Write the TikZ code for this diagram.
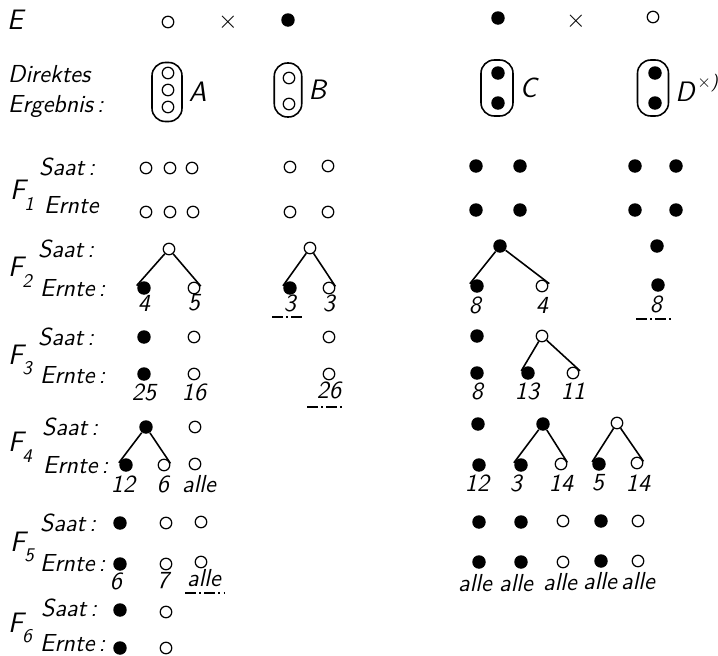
\documentclass[tikz,border=0pt]{standalone}
\usepackage{tikz}
\usetikzlibrary{positioning}

\tikzset{
  weiss/.style={circle,draw,line width=0.7pt,inner sep=0pt,minimum size=0.23cm},
  schwarz/.style={circle,fill,inner sep=0pt,minimum size=0.27cm},
  huelle/.style={draw,rectangle,rounded corners=0.265cm,line width=0.9pt,inner sep=0pt},
  ast/.style={line width=0.9pt,shorten >=-2pt},
  strichpunkt/.style={line width=0.8pt,dash pattern=on 6pt off 2pt on 1pt off 2pt},
  gross/.style={font=\sffamily\slshape\fontsize{16}{18}\selectfont},
}
\newcommand{\Fgen}[1]{F\kern-0.5pt\raisebox{-0.9ex}{\fontsize{11}{12}\selectfont #1}}

\begin{document}
\begin{tikzpicture}[x=0.02cm,y=-0.02cm,
  every node/.append style={font=\sffamily\slshape\fontsize{14}{16}\selectfont}]
  \useasboundingbox (0,0) rectangle (718,656);

  % Eltern
  \node[gross] (E) at (15,20) {E};
  \node[weiss] (e1) at (168,22) {};
  \node (x1) at (228,22) {$\times$};
  \node[schwarz] (e2) at (288,20) {};
  \node[schwarz] (e3) at (498,18) {};
  \node (x2) at (576,21) {$\times$};
  \node[weiss] (e4) at (653,17) {};

  % direktes Ergebnis
  \node[anchor=west] (dir) at (2,74) {Direktes};
  \node[anchor=west] (erg) at (2,106) {Ergebnis\,:};
  \node[huelle,minimum width=0.6cm,minimum height=1.18cm] (hA) at (167,92) {};
  \node[weiss] (a1) at (168,73) {};
  \node[weiss] (a2) at (168,90) {};
  \node[weiss] (a3) at (168,107) {};
  \node[gross,right=0pt of hA] (lA) {A};
  \node[huelle,minimum width=0.55cm,minimum height=1.08cm] (hB) at (288,90) {};
  \node[weiss] (b1) at (289,78) {};
  \node[weiss] (b2) at (289,104) {};
  \node[gross,right=0pt of hB] (lB) {B};
  \node[huelle,minimum width=0.64cm,minimum height=1.12cm] (hC) at (497,88) {};
  \node[schwarz] (c1) at (498,73) {};
  \node[schwarz] (c2) at (498,103) {};
  \node[gross,right=0pt of hC] (lC) {C};
  \node[huelle,minimum width=0.62cm,minimum height=1.12cm] (hD) at (653,88) {};
  \node[schwarz] (d1) at (655,73) {};
  \node[schwarz] (d2) at (655,103) {};
  \node[gross,right=0pt of hD] (lD) {D\raisebox{1.2ex}{\fontsize{10}{11}\selectfont\,$\times$)}};

  % F1
  \node[gross] (F1) at (22,195) {\Fgen{1}};
  \node[anchor=west] (s1) at (33,167) {Saat\,:};
  \node[anchor=west] (r1) at (38,205) {Ernte};
  \node[weiss] (a1s1) at (146,168) {};
  \node[weiss] (a1s2) at (170,168) {};
  \node[weiss] (a1s3) at (192,168) {};
  \node[weiss] (a1e1) at (146,212) {};
  \node[weiss] (a1e2) at (170,212) {};
  \node[weiss] (a1e3) at (193,212) {};
  \node[weiss] (b1s1) at (290,167) {};
  \node[weiss] (b1s2) at (328,166) {};
  \node[weiss] (b1e1) at (290,212) {};
  \node[weiss] (b1e2) at (328,212) {};
  \node[schwarz] (c1s1) at (476,166) {};
  \node[schwarz] (c1s2) at (520,166) {};
  \node[schwarz] (c1e1) at (476,210) {};
  \node[schwarz] (c1e2) at (520,210) {};
  \node[schwarz] (d1s1) at (635,166) {};
  \node[schwarz] (d1s2) at (676,166) {};
  \node[schwarz] (d1e1) at (635,210) {};
  \node[schwarz] (d1e2) at (676,210) {};

  % F2
  \node[gross] (F2) at (20,272) {\Fgen{2}};
  \node[anchor=west] (s2) at (32,249) {Saat\,:};
  \node[anchor=west] (r2) at (34,288) {Ernte\,:};
  \node[weiss] (a2s) at (169,249) {};
  \node[schwarz] (a2e1) at (144,288) {};
  \node[weiss] (a2e2) at (194,288) {};
  \node (a2n1) at (144,303) {4};
  \node (a2n2) at (194,303) {5};
  \draw[ast] (a2s) -- (a2e1.north west);
  \draw[ast] (a2s) -- (a2e2.north east);
  \node[weiss] (b2s) at (310,248) {};
  \node[schwarz] (b2e1) at (290,288) {};
  \node[weiss] (b2e2) at (329,288) {};
  \node (b2n1) at (290,303) {3};
  \node (b2n2) at (329,303) {3};
  \draw[ast] (b2s) -- (b2e1.north west);
  \draw[ast] (b2s) -- (b2e2.north east);
  \draw[strichpunkt] (272,317) -- (303,317);
  \node[schwarz] (c2s) at (500,246) {};
  \node[schwarz] (c2e1) at (477,286) {};
  \node[weiss] (c2e2) at (542,286) {};
  \node (c2n1) at (475,305) {8};
  \node (c2n2) at (542,305) {4};
  \draw[ast] (c2s) -- (c2e1.north west);
  \draw[ast] (c2s) -- (c2e2.north east);
  \node[schwarz] (d2s) at (657,246) {};
  \node[schwarz] (d2e) at (658,285) {};
  \node (d2n) at (656,304) {8};
  \draw[strichpunkt] (636,319) -- (673,319);

  % F3
  \node[gross] (F3) at (20,360) {\Fgen{3}};
  \node[anchor=west] (s3) at (32,337) {Saat\,:};
  \node[anchor=west] (r3) at (34,375) {Ernte\,:};
  \node[schwarz] (a3s1) at (144,337) {};
  \node[weiss] (a3s2) at (194,337) {};
  \node[schwarz] (a3e1) at (144,374) {};
  \node[weiss] (a3e2) at (194,374) {};
  \node (a3n1) at (144,392) {25};
  \node (a3n2) at (194,392) {16};
  \node[weiss] (b3s) at (329,337) {};
  \node[weiss] (b3e) at (329,374) {};
  \node (b3n) at (329,390) {26};
  \draw[strichpunkt] (307,407) -- (345,407);
  \node[schwarz] (c3s1) at (477,336) {};
  \node[weiss] (c3s2) at (542,336) {};
  \node[schwarz] (c3e1) at (477,373) {};
  \node[schwarz] (c3e2) at (528,373) {};
  \node[weiss] (c3e3) at (573,373) {};
  \node (c3n1) at (477,391) {8};
  \node (c3n2) at (527,391) {13};
  \node (c3n3) at (573,391) {11};
  \draw[ast] (c3s2) -- (c3e2.north west);
  \draw[ast] (c3s2) -- (c3e3.north east);

  % F4
  \node[gross] (F4) at (20,447) {\Fgen{4}};
  \node[anchor=west] (s4) at (36,427) {Saat\,:};
  \node[anchor=west] (r4) at (37,465) {Ernte\,:};
  \node[schwarz] (a4s1) at (146,427) {};
  \node[weiss] (a4s2) at (195,427) {};
  \node[schwarz] (a4e1) at (126,465) {};
  \node[weiss] (a4e2) at (164,465) {};
  \node[weiss] (a4e3) at (195,464) {};
  \node (a4n1) at (123,484) {12};
  \node (a4n2) at (163,484) {6};
  \node (a4n3) at (199,484) {alle};
  \draw[ast] (a4s1) -- (a4e1.north west);
  \draw[ast] (a4s1) -- (a4e2.north east);
  \node[schwarz] (c4s1) at (478,424) {};
  \node[schwarz] (c4s2) at (543,424) {};
  \node[weiss] (c4s3) at (617,423) {};
  \node[schwarz] (c4e1) at (479,465) {};
  \node[schwarz] (c4e2) at (521,465) {};
  \node[weiss] (c4e3) at (561,464) {};
  \node[schwarz] (c4e4) at (599,464) {};
  \node[weiss] (c4e5) at (637,463) {};
  \node (c4n1) at (477,483) {12};
  \node (c4n2) at (516,483) {3};
  \node (c4n3) at (561,483) {14};
  \node (c4n4) at (598,483) {5};
  \node (c4n5) at (638,483) {14};
  \draw[ast] (c4s2) -- (c4e2.north west);
  \draw[ast] (c4s2) -- (c4e3.north east);
  \draw[ast] (c4s3) -- (c4e4.north west);
  \draw[ast] (c4s3) -- (c4e5.north east);

  % F5
  \node[gross] (F5) at (22,547) {\Fgen{5}};
  \node[anchor=west] (s5) at (34,523) {Saat\,:};
  \node[anchor=west] (r5) at (34,563) {Ernte\,:};
  \node[schwarz] (a5s1) at (120,523) {};
  \node[weiss] (a5s2) at (166,523) {};
  \node[weiss] (a5s3) at (201,522) {};
  \node[schwarz] (a5e1) at (120,564) {};
  \node[weiss] (a5e2) at (166,564) {};
  \node[weiss] (a5e3) at (201,562) {};
  \node (a5n1) at (116,581) {6};
  \node (a5n2) at (163,581) {7};
  \node (a5n3) at (204,578) {alle};
  \draw[strichpunkt] (185,593) -- (225,593);
  \node[schwarz] (c5s1) at (479,522) {};
  \node[schwarz] (c5s2) at (521,522) {};
  \node[weiss] (c5s3) at (563,521) {};
  \node[schwarz] (c5s4) at (601,521) {};
  \node[weiss] (c5s5) at (638,521) {};
  \node[schwarz] (c5e1) at (479,562) {};
  \node[schwarz] (c5e2) at (521,562) {};
  \node[weiss] (c5e3) at (563,562) {};
  \node[schwarz] (c5e4) at (601,561) {};
  \node[weiss] (c5e5) at (638,561) {};
  \node (c5n1) at (475,583) {alle};
  \node (c5n2) at (516,583) {alle};
  \node (c5n3) at (560,582) {alle};
  \node (c5n4) at (600,581) {alle};
  \node (c5n5) at (638,581) {alle};

  % F6
  \node[gross] (F6) at (20,628) {\Fgen{6}};
  \node[anchor=west] (s6) at (35,608) {Saat\,:};
  \node[anchor=west] (r6) at (34,643) {Ernte\,:};
  \node[schwarz] (a6s1) at (120,610) {};
  \node[weiss] (a6s2) at (166,612) {};
  \node[schwarz] (a6e1) at (120,648) {};
  \node[weiss] (a6e2) at (166,648) {};
\end{tikzpicture}
\end{document}
